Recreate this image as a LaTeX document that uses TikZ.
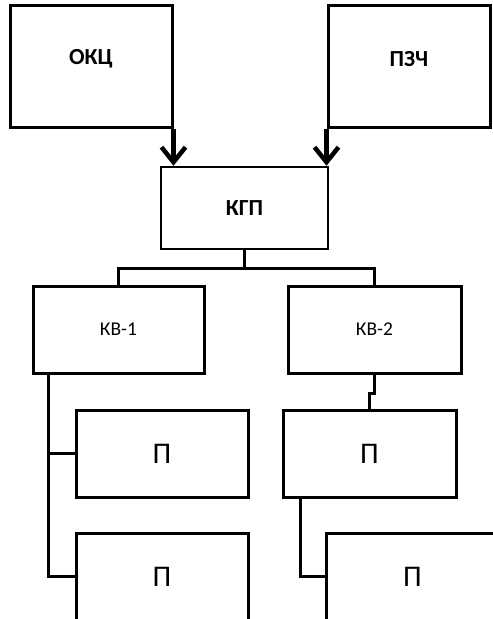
\documentclass[tikz,border=0pt]{standalone}
\usepackage{fontspec}
\setmainfont{Carlito}
\usetikzlibrary{arrows.meta}
\tikzset{
  box/.style={draw=black, line width=3pt, fill=white, inner sep=0pt, rectangle},
  conn/.style={draw=black, line width=3pt, line join=miter},
  arr/.style={draw=black, line width=4.5pt, -{Straight Barb[length=15pt, width=24pt, line width=4.5pt]}},
  bigb/.style={font=\fontsize{23}{26}\selectfont\bfseries},
  midb/.style={font=\fontsize{23}{26}\selectfont\bfseries},
  kvt/.style={font=\fontsize{19.5}{22}\selectfont},
  pt/.style={font=\fontsize{30}{33}\selectfont},
}
\begin{document}
\begin{tikzpicture}[x=1pt, y=-1pt]
\useasboundingbox (0,0) rectangle (493,619);
\clip (0,0) rectangle (493,619);
\fill[white] (0,0) rectangle (493,619);
% top boxes
\node[box, minimum width=162pt, minimum height=122pt,
  label={[bigb, yshift=7pt]center:ОКЦ}] (okc) at (91,66) {};
\node[box, minimum width=162pt, minimum height=122pt,
  label={[bigb, yshift=7pt]center:ПЗЧ}] (pzch) at (409,66) {};
% central box
\node[box, line width=2.5pt, minimum width=167pt, minimum height=82pt, midb] (kgp) at (244.5,208) {КГП};
% second level
\node[box, minimum width=171pt, minimum height=87pt, kvt] (kv1) at (118.5,329.5) {КВ-1};
\node[box, minimum width=173pt, minimum height=87pt, kvt] (kv2) at (374.5,329.5) {КВ-2};
% leaf boxes
\node[box, minimum width=172pt, minimum height=87pt, pt] (p1) at (162,453.5) {П};
\node[box, minimum width=172pt, minimum height=87pt, pt] (p3) at (162,576.5) {П};
\node[box, minimum width=173pt, minimum height=87pt, pt] (p2) at (369.5,453.5) {П};
\node[box, minimum width=173pt, minimum height=87pt, pt] (p4) at (412.5,576.5) {П};
% arrows into KGP
\draw[arr] (okc.south east) -- (okc.south east |- kgp.north);
\draw[arr] (pzch.south west) -- (pzch.south west |- kgp.north);
% bus from KGP
\draw[conn] (kgp.south) -- ++(0,18) coordinate (bus);
\draw[conn] (bus) -| (kv1.north);
\draw[conn] (bus) -| (kv2.north);
% KV-1 branch
\coordinate (l1) at ([xshift=17pt]kv1.south west);
\draw[conn] (l1) |- (p3.west);
\draw[conn] (l1 |- p1.west) -- (p1.west);
% KV-2 branch
\draw[conn] (kv2.south) -- ++(0,19) -| (p2.north);
\coordinate (l2) at ([xshift=19pt]p2.south west);
\draw[conn] (l2) |- (p4.west);
\end{tikzpicture}
\end{document}
